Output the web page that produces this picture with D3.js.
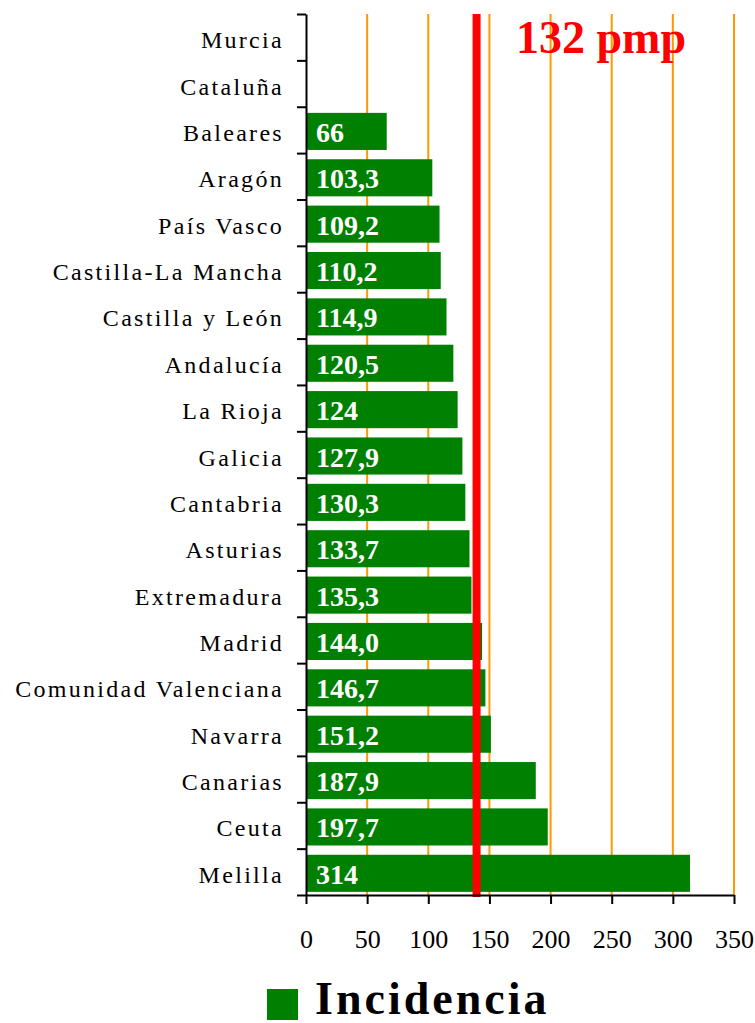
<!DOCTYPE html>
<html>
<head>
<meta charset="utf-8">
<script src="https://cdn.jsdelivr.net/npm/d3@7"></script>
<style>
  body { margin: 0; background: #ffffff; }
  svg { display: block; }
  text { font-family: 'Liberation Serif', 'DejaVu Serif', 'Times New Roman', Times, serif; }
</style>
</head>
<body>
<div id="chart"></div>
<script>
// data, top to bottom
const regions = ['Murcia', 'Cataluña', 'Baleares', 'Aragón', 'País Vasco', 'Castilla-La Mancha',
  'Castilla y León', 'Andalucía', 'La Rioja', 'Galicia', 'Cantabria', 'Asturias', 'Extremadura',
  'Madrid', 'Comunidad Valenciana', 'Navarra', 'Canarias', 'Ceuta', 'Melilla']
const values = [null, null, 66, 103.3, 109.2, 110.2, 114.9, 120.5, 124, 127.9, 130.3, 133.7, 135.3,
  144.0, 146.7, 151.2, 187.9, 197.7, 314]
const valueLabels = ['', '', '66', '103,3', '109,2', '110,2', '114,9', '120,5', '124', '127,9', '130,3',
  '133,7', '135,3', '144,0', '146,7', '151,2', '187,9', '197,7', '314']
const xTicks = [0, 50, 100, 150, 200, 250, 300, 350]
const refLinePos = 139.5   // where the red line sits in the picture
const refLabel = '132 pmp'
const seriesName = 'Incidencia'

const data = regions.map((r, i) => ({ region: r, value: values[i], label: valueLabels[i] }))

const width = 755, height = 1023
const plot = { left: 306, right: 734, top: 14, bottom: 895 }
const serif = "'Liberation Serif', 'DejaVu Serif', 'Times New Roman', Times, serif"

const svg = d3.select('#chart')
  .append('svg')
    .attr('width', width)
    .attr('height', height)

const x = d3.scaleLinear()
  .domain([0, 350])
  .range([plot.left, plot.right])

const y = d3.scaleBand()
  .domain(regions)
  .range([plot.top, plot.bottom])
  .paddingInner(0.2)
  .paddingOuter(0.1)

// orange gridlines
svg.append('g')
  .selectAll('line')
  .data(xTicks.filter(d => d > 0))
  .enter()
  .append('line')
    .attr('x1', d => x(d))
    .attr('x2', d => x(d))
    .attr('y1', plot.top)
    .attr('y2', plot.bottom)
    .style('stroke', '#ff9900')
    .style('stroke-width', 2)

// bars
svg.append('g')
  .selectAll('rect')
  .data(data.filter(d => d.value !== null))
  .enter()
  .append('rect')
    .attr('x', x(0))
    .attr('y', d => y(d.region) + 1.5)
    .attr('width', d => x(d.value) - x(0))
    .attr('height', y.bandwidth())
    .style('fill', '#008000')

// value labels inside bars
svg.append('g')
  .selectAll('text')
  .data(data.filter(d => d.value !== null))
  .enter()
  .append('text')
    .attr('x', x(0) + 10)
    .attr('y', d => y(d.region) + y.bandwidth() / 2 + 12)
    .attr('font-family', serif)
    .attr('font-weight', 'bold')
    .attr('font-size', 28)
    .attr('fill', '#ffffff')
    .text(d => d.label)

// red reference line
svg.append('line')
  .attr('x1', x(refLinePos))
  .attr('x2', x(refLinePos))
  .attr('y1', plot.top)
  .attr('y2', plot.bottom + 2)
  .style('stroke', '#ff0000')
  .style('stroke-width', 8)

svg.append('text')
  .attr('x', 516)
  .attr('y', 53)
  .attr('font-family', serif)
  .attr('font-weight', 'bold')
  .attr('font-size', 46)
  .attr('fill', '#ff0000')
  .text(refLabel)

// y axis: ticks at band edges
const yEdges = d3.scaleLinear().domain([0, regions.length]).range([plot.top, plot.bottom])
svg.append('g')
  .attr('transform', 'translate(' + plot.left + ',0)')
  .call(d3.axisLeft(yEdges).tickValues(d3.range(regions.length + 1)).tickSize(9).tickSizeOuter(0).tickFormat(''))
  .call(g => g.selectAll('line, path').style('stroke', '#000').style('stroke-width', 2))

// category labels
svg.append('g')
  .selectAll('text')
  .data(regions)
  .enter()
  .append('text')
    .attr('x', 284)
    .attr('y', d => y(d) + y.bandwidth() / 2 + 11)
    .attr('text-anchor', 'end')
    .attr('font-family', serif)
    .attr('font-size', 24)
    .attr('letter-spacing', 2.3)
    .attr('fill', '#000')
    .text(d => d)

// x axis
const xAxis = svg.append('g')
  .attr('transform', 'translate(0,' + plot.bottom + ')')
  .call(d3.axisBottom(x).tickValues(xTicks).tickSize(9).tickSizeOuter(0).tickFormat(d => d))
xAxis.attr('font-family', serif).attr('font-size', 26)
xAxis.selectAll('line, path').style('stroke', '#000').style('stroke-width', 2)
xAxis.selectAll('text')
  .attr('y', 0)
  .attr('dy', 0)
  .attr('transform', 'translate(0,53)')
  .attr('fill', '#000')

// legend
const legend = svg.append('g')
legend.append('rect')
  .attr('x', 267)
  .attr('y', 989)
  .attr('width', 31)
  .attr('height', 31)
  .style('fill', '#008000')
legend.append('text')
  .attr('x', 315)
  .attr('y', 1014)
  .attr('font-family', serif)
  .attr('font-weight', 'bold')
  .attr('font-size', 46)
  .attr('letter-spacing', 3)
  .attr('fill', '#000')
  .text(seriesName)
</script>
</body>
</html>
